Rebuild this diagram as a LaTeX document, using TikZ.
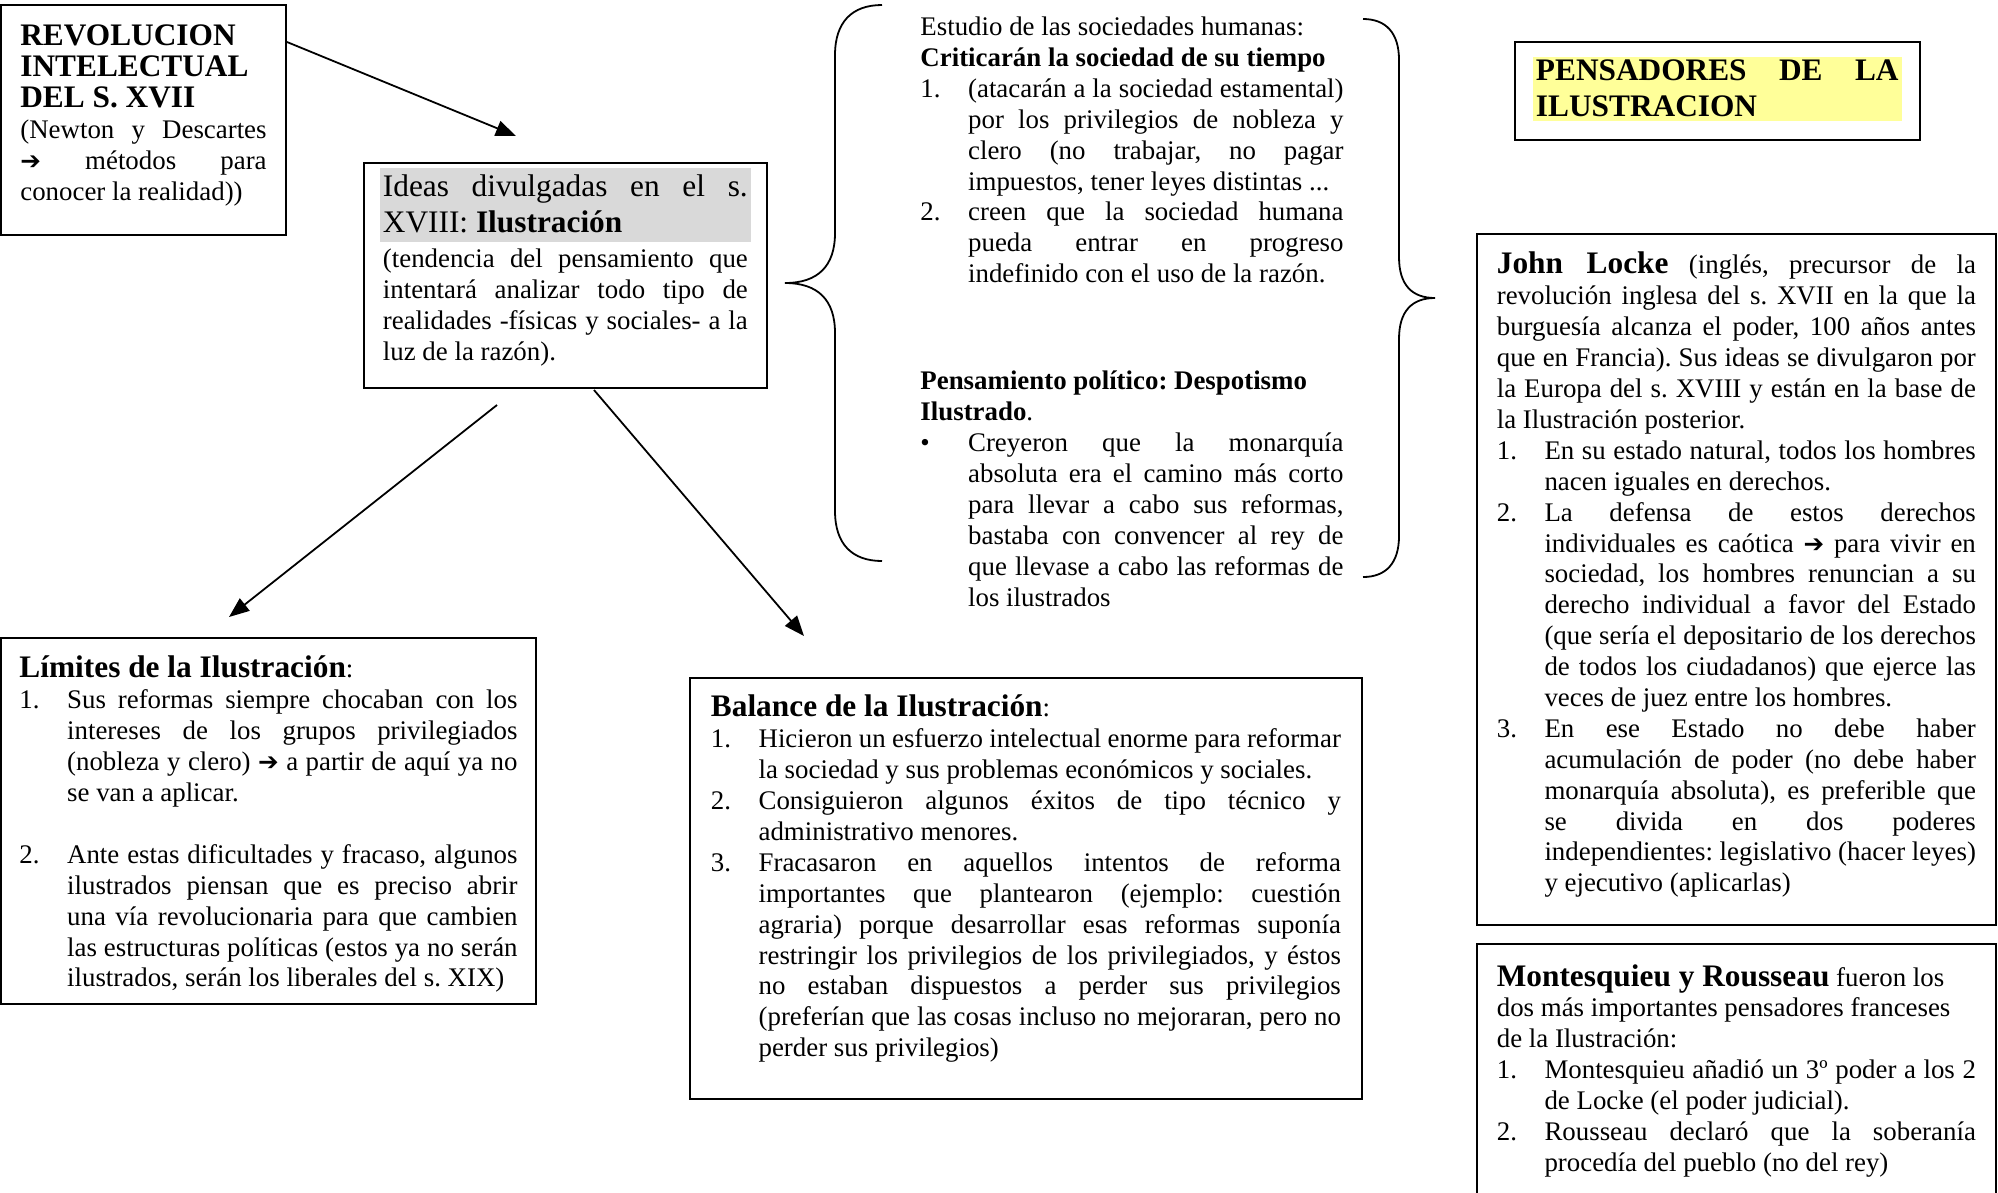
\documentclass[tikz,border=0pt]{standalone}
\usepackage{fontspec}
\setmainfont{Liberation Serif}[WordSpace={1,2,0.3}]
\newfontfamily\flechafont{DejaVu Sans}
\usepackage{xcolor}
\usepackage{tikz}
\usetikzlibrary{arrows.meta,calc}
\definecolor{sombra}{RGB}{217,217,217}
\definecolor{amarillo}{RGB}{255,255,153}
\tikzset{
  caja/.style={draw, line width=0.8pt, anchor=north west, inner ysep=0pt, align=justify, font=\fontsize{12}{13.8}\selectfont},
  texto/.style={anchor=north west, inner sep=0pt, align=justify, font=\fontsize{12}{13.8}\selectfont},
  flecha/.style={-{Triangle[length=9pt,width=7pt]}, line width=0.8pt},
  llave/.style={line width=0.8pt},
}
\frenchspacing
\hyphenpenalty=10000
\exhyphenpenalty=10000
\tolerance=10000
\hbadness=10000
\newcommand{\grande}{\fontsize{14}{16.1}\selectfont}
\newcommand{\flechita}{{\flechafont\fontsize{11}{13.8}\selectfont ➔}}
\newcommand{\numitem}[2]{\par\noindent\hangindent=21.3pt\hangafter=1\makebox[21.3pt][l]{#1}#2\par}
\newcommand{\fondo}[2]{\noindent\makebox[\linewidth][l]{\hspace*{-1.5pt}\setlength{\fboxsep}{1.5pt}\colorbox{#1}{\parbox[t]{\linewidth}{#2}}}\par}

\begin{document}
\begin{tikzpicture}[x=0.4467pt, y=-0.4467pt]
\useasboundingbox (0,0) rectangle (1998,1192);

\node[caja, text width=110pt, inner xsep=8.7pt, text height=18.3pt, text depth=84.4pt] (revbox) at (0,4)
  {{\grande\bfseries REVOLUCION INTELECTUAL DEL S. XVII}\par
   (Newton y Descartes\linebreak \flechita{} métodos para\linebreak conocer la realidad))};

\node[caja, text width=163pt, inner xsep=8.5pt, text height=15.2pt, text depth=85.3pt] (ideasbox) at (363,162)
  {\fondo{sombra}{\grande\strut Ideas divulgadas en el s. XVIII: \textbf{Ilustración}\rule[-2.5pt]{0pt}{1pt}}
   \vspace{2.3pt}
   (tendencia del pensamiento que\linebreak intentará analizar todo tipo de\linebreak realidades -físicas y sociales- a la\linebreak luz de la razón).};

\node[texto, text width=189pt, text height=9pt] (sociedad) at (920,15)
  {Estudio de las sociedades humanas:\par
   \textbf{Criticarán la sociedad de su tiempo}\par
   \numitem{1.}{(atacarán a la sociedad estamental)\linebreak por los privilegios de nobleza y\linebreak clero (no trabajar, no pagar\linebreak impuestos, tener leyes distintas ...}
   \numitem{2.}{creen que la sociedad humana\linebreak pueda entrar en progreso\linebreak \mbox{indefinido con el uso de la razón.}}
   \vspace{34pt}
   {\raggedright\textbf{Pensamiento político: Despotismo Ilustrado}.\par}
   \numitem{•}{Creyeron que la monarquía\linebreak absoluta era el camino más corto\linebreak para llevar a cabo sus reformas,\linebreak bastaba con convencer al rey de\linebreak que llevase a cabo las reformas de\linebreak los ilustrados}};

\node[caja, text width=162pt, inner xsep=9.4pt, text height=17.4pt, text depth=26.4pt] (pensbox) at (1514,41)
  {\fondo{amarillo}{\grande\bfseries PENSADORES DE LA ILUSTRACION}};

\node[caja, text width=214pt, inner xsep=8.9pt, text height=17.9pt, text depth=290.8pt] (lockebox) at (1476,233)
  {{\grande\bfseries John Locke} (inglés, precursor de la\linebreak revolución inglesa del s. XVII en la que la\linebreak burguesía alcanza el poder, 100 años antes\linebreak que en Francia). Sus ideas se divulgaron por\linebreak la Europa del s. XVIII y están en la base de\linebreak la Ilustración posterior.\par
   \numitem{1.}{En su estado natural, todos los hombres\linebreak nacen iguales en derechos.}
   \numitem{2.}{La defensa de estos derechos\linebreak individuales es caótica \flechita{} para vivir en\linebreak sociedad, los hombres renuncian a su\linebreak derecho individual a favor del Estado\linebreak (que sería el depositario de los derechos\linebreak de todos los ciudadanos) que ejerce las\linebreak veces de juez entre los hombres.}
   \numitem{3.}{En ese Estado no debe haber\linebreak acumulación de poder (no debe haber\linebreak monarquía absoluta), es preferible que\linebreak se divida en dos poderes\linebreak independientes: legislativo (hacer leyes)\linebreak y ejecutivo (aplicarlas)}};

\node[caja, text width=214pt, inner xsep=8.9pt, text height=18.8pt, text depth=110pt] (montbox) at (1476,943)
  {{\raggedright{\grande\bfseries Montesquieu y Rousseau} fueron los\\ dos más importantes pensadores franceses\\ de la Ilustración:\par}
   \numitem{1.}{Montesquieu añadió un 3º poder a los 2\linebreak de Locke (el poder judicial).}
   \numitem{2.}{Rousseau declaró que la soberanía\linebreak procedía del pueblo (no del rey)}};

\node[caja, text width=222.5pt, inner xsep=8.3pt, text height=17.9pt, text depth=145.6pt] (limitesbox) at (0,637)
  {{\grande\bfseries Límites de la Ilustración}:\par
   \numitem{1.}{Sus reformas siempre chocaban con los\linebreak intereses de los grupos privilegiados\linebreak (nobleza y clero) \flechita{} a partir de aquí ya no\linebreak se van a aplicar.}
   \vspace{13.8pt}
   \numitem{2.}{Ante estas dificultades y fracaso, algunos\linebreak ilustrados piensan que es preciso abrir\linebreak una vía revolucionaria para que cambien\linebreak las estructuras políticas (estos ya no serán\linebreak ilustrados, serán los liberales del s. XIX)}};

\node[caja, text width=281.4pt, inner xsep=9.4pt, text height=17.4pt, text depth=170.6pt] (balancebox) at (689,677)
  {{\grande\bfseries Balance de la Ilustración}:\par
   \numitem{1.}{Hicieron un esfuerzo intelectual enorme para reformar\linebreak la sociedad y sus problemas económicos y sociales.}
   \numitem{2.}{Consiguieron algunos éxitos de tipo técnico y\linebreak administrativo menores.}
   \numitem{3.}{Fracasaron en aquellos intentos de reforma\linebreak importantes que plantearon (ejemplo: cuestión\linebreak agraria) porque desarrollar esas reformas suponía\linebreak restringir los privilegios de los privilegiados, y éstos\linebreak no estaban dispuestos a perder sus privilegios\linebreak (preferían que las cosas incluso no mejoraran, pero no\linebreak perder sus privilegios)}};

\coordinate (revsal) at ($(revbox.north east)+(0,38)$);
\coordinate (ideaspunta) at (516,136);
\coordinate (ideassal1) at (497,405);
\coordinate (limitespunta) at (229,617);
\coordinate (ideassal2) at (594,390);
\coordinate (balancepunta) at (804,636);
\draw[flecha] (revsal) -- (ideaspunta);
\draw[flecha] (ideassal1) -- (limitespunta);
\draw[flecha] (ideassal2) -- (balancepunta);

\draw[llave] (882,5) .. controls (852,5) and (835,22) .. (835,55) -- (835,233)
  .. controls (835,266) and (818,283) .. (785,283)
  .. controls (818,283) and (835,300) .. (835,333) -- (835,511)
  .. controls (835,544) and (852,561) .. (882,561);
\draw[llave] (1363,19) .. controls (1386,19) and (1399,33) .. (1399,60) -- (1399,257)
  .. controls (1399,285) and (1412,298) .. (1435,298)
  .. controls (1412,298) and (1399,311) .. (1399,339) -- (1399,536)
  .. controls (1399,563) and (1386,577) .. (1363,577);
\end{tikzpicture}
\end{document}
